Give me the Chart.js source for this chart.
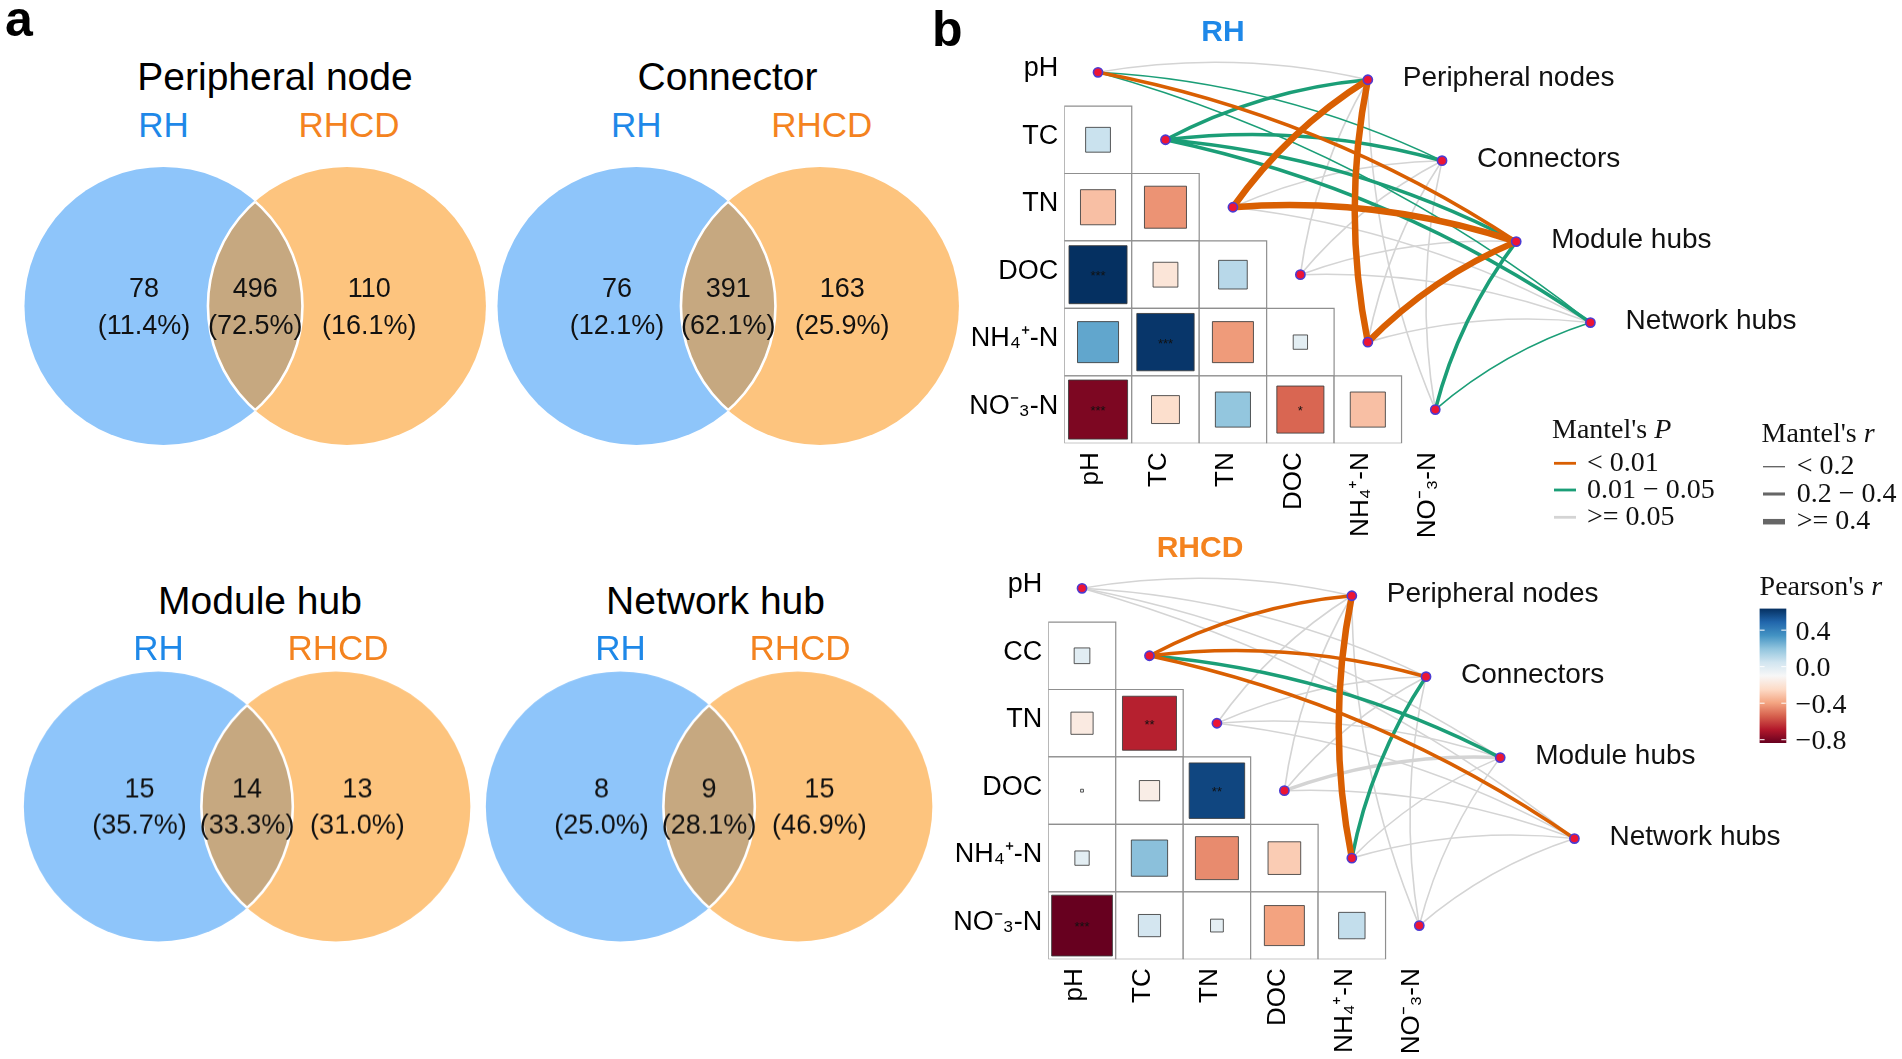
<!DOCTYPE html>
<html>
<head>
<meta charset="utf-8">
<title>Shared taxa and Mantel tests</title>
<script src="https://cdn.jsdelivr.net/npm/chart.js@4.4.1/dist/chart.umd.min.js"></script>
<style>
  html, body { margin: 0; padding: 0; background: #fff; }
  body { position: relative; width: 1902px; height: 1059px; overflow: hidden;
         font-family: "Liberation Sans", Arial, sans-serif; }
  .box { position: absolute; }
  .txt { position: absolute; white-space: nowrap; line-height: 1; }
</style>
</head>
<body>
<script>
// ---------------- panel a: taxa per network role ----------------
const vennTitles = ['Peripheral node', 'Connector', 'Module hub', 'Network hub'];
const onlyRH = [78, 76, 15, 8];
const shared = [496, 391, 14, 9];
const onlyRHCD = [110, 163, 13, 15];

// ---------------- panel b: soil factors vs network roles ----------------
const envCols = ['pH', 'TC', 'TN', 'DOC', 'NH₄⁺-N', 'NO⁻₃-N'];
const rhRows = ['pH', 'TC', 'TN', 'DOC', 'NH₄⁺-N', 'NO⁻₃-N'];
const rhcdRows = ['pH', 'CC', 'TN', 'DOC', 'NH₄⁺-N', 'NO⁻₃-N'];
const roles = ['Peripheral nodes', 'Connectors', 'Module hubs', 'Network hubs'];

// Pearson's r, lower triangle (row i against columns 0..i-1)
const rhPearson = [
  [],
  [0.15],
  [-0.30, -0.43],
  [0.82, -0.15, 0.20],
  [0.41, 0.80, -0.41, 0.05],
  [-0.85, -0.19, 0.30, -0.54, -0.30],
];
const rhStars = [[], [''], ['', ''], ['***', '', ''], ['', '***', '', ''], ['***', '', '', '*', '']];

const rhcdPearson = [
  [],
  [0.06],
  [-0.12, -0.71],
  [0.002, -0.10, 0.75],
  [0.05, 0.32, -0.45, -0.26],
  [-0.90, 0.12, 0.04, -0.39, 0.17],
];
const rhcdStars = [[], [''], ['', '**'], ['', '', '**'], ['', '', '', ''], ['***', '', '', '', '']];

// Mantel tests: rows = soil factor, cols = role
const rhMantelP = [
  [0.30, 0.03, 0.005, 0.03],
  [0.03, 0.03, 0.03, 0.03],
  [0.005, 0.30, 0.005, 0.30],
  [0.30, 0.30, 0.30, 0.30],
  [0.005, 0.30, 0.005, 0.30],
  [0.30, 0.30, 0.03, 0.03],
];
const rhMantelR = [
  [0.10, 0.15, 0.30, 0.15],
  [0.30, 0.30, 0.30, 0.30],
  [0.45, 0.10, 0.50, 0.10],
  [0.10, 0.10, 0.10, 0.10],
  [0.45, 0.10, 0.45, 0.10],
  [0.10, 0.10, 0.30, 0.15],
];
const rhcdMantelP = [
  [0.30, 0.30, 0.30, 0.30],
  [0.005, 0.005, 0.03, 0.005],
  [0.30, 0.30, 0.30, 0.30],
  [0.30, 0.30, 0.30, 0.30],
  [0.005, 0.03, 0.30, 0.30],
  [0.30, 0.30, 0.30, 0.30],
];
const rhcdMantelR = [
  [0.10, 0.10, 0.10, 0.10],
  [0.30, 0.30, 0.30, 0.30],
  [0.10, 0.10, 0.10, 0.10],
  [0.10, 0.10, 0.30, 0.10],
  [0.45, 0.30, 0.10, 0.10],
  [0.10, 0.10, 0.10, 0.10],
];

const pClassLabels = ['< 0.01', '0.01 − 0.05', '>= 0.05'];
const rClassLabels = ['< 0.2', '0.2 − 0.4', '>= 0.4'];
const pearsonTicks = [0.4, 0.0, -0.4, -0.8];

// ---------------- styles ----------------
const FONT_SANS = '"Liberation Sans", Arial, sans-serif';
const FONT_SERIF = '"Liberation Serif", "Times New Roman", serif';
const BLUE = '#8EC5FA', ORANGE = '#FDC47E', LENS = '#C6A880';
const RH_TXT = '#1E88E8', RHCD_TXT = '#F4831F';
const P_COLORS = ['#D95F02', '#1B9E77', '#D4D4D4'];
const R_WIDTHS = [1.6, 3.6, 6.5];
const NODE_FILL = '#EC1535', NODE_LINE = '#4C3BD2';
const rdbu = ['#67001F', '#B2182B', '#D6604D', '#F4A582', '#FDDBC7', '#F7F7F7',
              '#D1E5F0', '#92C5DE', '#4393C3', '#2166AC', '#053061'];
const CORR_MIN = -0.9, CORR_MAX = 0.82;     // colour mapping of cells
const LEG_MIN = -0.836, LEG_MAX = 0.636;    // range shown on colour bar

const pClass = p => (p < 0.01 ? 0 : p < 0.05 ? 1 : 2);
const rClass = r => (r < 0.2 ? 0 : r < 0.4 ? 1 : 2);

function hexRgb(h) {
  return [1, 3, 5].map(i => parseInt(h.slice(i, i + 2), 16));
}
function ramp(t) {
  t = Math.min(1, Math.max(0, t));
  const p = t * (rdbu.length - 1);
  const i = Math.min(rdbu.length - 2, Math.floor(p));
  const f = p - i;
  const a = hexRgb(rdbu[i]), b = hexRgb(rdbu[i + 1]);
  return 'rgb(' + a.map((v, k) => Math.round(v + (b[k] - v) * f)).join(',') + ')';
}
const corrColor = v => ramp((v - CORR_MIN) / (CORR_MAX - CORR_MIN));

function addText(str, x, baseline, size, color, opts = {}) {
  const d = document.createElement('div');
  d.className = 'txt';
  d.textContent = str;
  d.style.left = x + 'px';
  d.style.top = (baseline - 0.8465 * size) + 'px';
  d.style.fontSize = size + 'px';
  d.style.color = color;
  if (opts.bold) d.style.fontWeight = 'bold';
  if (opts.center) d.style.transform = 'translateX(-50%)';
  document.body.appendChild(d);
}

function addBox(left, top, w, h) {
  const d = document.createElement('div');
  d.className = 'box';
  Object.assign(d.style, { left: left + 'px', top: top + 'px', width: w + 'px', height: h + 'px' });
  const c = document.createElement('canvas');
  d.appendChild(c);
  document.body.appendChild(d);
  return c;
}

// ---------------- panel a: Venn diagrams ----------------
const VENN_HALF = 0.66;   // centre offset of each circle, in radii
const vennLayout = [
  { cx: 255.3, cy: 305.5, r: 139, tx: 275, tBase: 90, sBase: 136.7 },
  { cx: 728.0, cy: 305.5, r: 139, tx: 727.5, tBase: 90, sBase: 136.7 },
  { cx: 247.3, cy: 806.0, r: 134.5, tx: 260, tBase: 614.3, sBase: 660 },
  { cx: 709.3, cy: 806.0, r: 134.5, tx: 715.5, tBase: 614.3, sBase: 660 },
];

const vennOverlay = {
  id: 'vennOverlay',
  afterDatasetsDraw(chart, args, opts) {
    const { ctx, scales: { x, y } } = chart;
    const k = opts.k;
    const rPx = x.getPixelForValue(1) - x.getPixelForValue(0);
    const ax = x.getPixelForValue(-VENN_HALF), bx = x.getPixelForValue(VENN_HALF);
    const cy = y.getPixelForValue(0);
    const circle = cx => { ctx.beginPath(); ctx.arc(cx, cy, rPx, 0, Math.PI * 2); };

    ctx.save();
    circle(ax); ctx.clip();
    circle(bx); ctx.fillStyle = LENS; ctx.fill();
    ctx.lineWidth = 2.6; ctx.strokeStyle = '#fff'; ctx.stroke();
    ctx.restore();
    ctx.save();
    circle(bx); ctx.clip();
    circle(ax); ctx.lineWidth = 2.6; ctx.strokeStyle = '#fff'; ctx.stroke();
    ctx.restore();

    const total = onlyRH[k] + shared[k] + onlyRHCD[k];
    const items = [[onlyRH[k], -0.80], [shared[k], 0], [onlyRHCD[k], 0.82]];
    ctx.save();
    ctx.fillStyle = '#111';
    ctx.font = '27px ' + FONT_SANS;
    ctx.textAlign = 'center';
    ctx.textBaseline = 'alphabetic';
    items.forEach(([n, pos]) => {
      const tx = x.getPixelForValue(pos);
      ctx.fillText(String(n), tx, y.getPixelForValue(-0.065));
      ctx.fillText('(' + (100 * n / total).toFixed(1) + '%)', tx, y.getPixelForValue(0.203));
    });
    ctx.restore();
  }
};

vennLayout.forEach((L, k) => {
  const cv = addBox(L.cx - 1.8 * L.r, L.cy - 1.1 * L.r, 3.6 * L.r, 2.2 * L.r);
  new Chart(cv, {
    type: 'scatter',
    data: {
      datasets: [{
        data: [{ x: -VENN_HALF, y: 0 }, { x: VENN_HALF, y: 0 }],
        pointStyle: 'circle',
        pointBackgroundColor: [BLUE, ORANGE],
        pointBorderWidth: 0,
        pointRadius: c => c.chart.scales.x.getPixelForValue(1) - c.chart.scales.x.getPixelForValue(0),
        clip: false,
      }]
    },
    options: {
      responsive: true, maintainAspectRatio: false, animation: false, events: [],
      layout: { padding: 0, autoPadding: false },
      scales: {
        x: { type: 'linear', display: false, min: -1.8, max: 1.8 },
        y: { type: 'linear', display: false, min: -1.1, max: 1.1, reverse: true },
      },
      plugins: { legend: { display: false }, tooltip: { enabled: false }, vennOverlay: { k } },
    },
    plugins: [vennOverlay],
  });
  addText(vennTitles[k], L.tx, L.tBase, 39, '#000', { center: true });
  addText('RH', L.cx - VENN_HALF * L.r, L.sBase, 35, RH_TXT, { center: true });
  addText('RHCD', L.cx + VENN_HALF * L.r + 2, L.sBase, 35, RHCD_TXT, { center: true });
});

// ---------------- panel b: correlation + Mantel panels ----------------
// role nodes laid out on a diagonal to the right of the matrix (axis units)
const ROLE_X0 = 4.0, ROLE_DX = 1.1, ROLE_Y0 = 0.11, ROLE_DY = 1.2;

function italicTitle(ctx, plain, ital, x, y) {
  ctx.font = '28px ' + FONT_SERIF;
  ctx.fillText(plain, x, y);
  const w = ctx.measureText(plain).width;
  ctx.font = 'italic 28px ' + FONT_SERIF;
  ctx.fillText(ital, x + w, y);
}

function mantelLegend(ctx, off) {
  const X = v => v - off.left, Y = v => v - off.top;
  ctx.save();
  ctx.fillStyle = '#111';
  ctx.textAlign = 'left';
  ctx.textBaseline = 'alphabetic';
  italicTitle(ctx, "Mantel's ", 'P', X(1552), Y(438));
  italicTitle(ctx, "Mantel's ", 'r', X(1761.5), Y(441.7));
  ctx.font = '28px ' + FONT_SERIF;
  const pY = [463.3, 490, 517.3], rY = [466.7, 494, 521.7];
  pClassLabels.forEach((lab, i) => {
    ctx.strokeStyle = P_COLORS[i]; ctx.lineWidth = 2.8;
    ctx.beginPath(); ctx.moveTo(X(1554), Y(pY[i])); ctx.lineTo(X(1576), Y(pY[i])); ctx.stroke();
    ctx.fillText(lab, X(1587), Y(pY[i] + 7.5));
  });
  rClassLabels.forEach((lab, i) => {
    ctx.strokeStyle = '#666'; ctx.lineWidth = R_WIDTHS[i] * 0.85;
    ctx.beginPath(); ctx.moveTo(X(1763), Y(rY[i])); ctx.lineTo(X(1785), Y(rY[i])); ctx.stroke();
    ctx.fillText(lab, X(1796.7), Y(rY[i] + 7.5));
  });
  ctx.restore();
}

function pearsonLegend(ctx, off) {
  const X = v => v - off.left, Y = v => v - off.top;
  const top = 608.3, bottom = 742.7, left = 1760, right = 1786.7;
  const legY = v => top + (LEG_MAX - v) / (LEG_MAX - LEG_MIN) * (bottom - top);
  ctx.save();
  ctx.fillStyle = '#111';
  ctx.textAlign = 'left';
  ctx.textBaseline = 'alphabetic';
  italicTitle(ctx, "Pearson's ", 'r', X(1760), Y(595));
  const g = ctx.createLinearGradient(0, Y(top), 0, Y(bottom));
  rdbu.slice().reverse().forEach((c, i) => g.addColorStop(i / (rdbu.length - 1), c));
  ctx.fillStyle = g;
  ctx.fillRect(X(left), Y(top), right - left, bottom - top);
  ctx.strokeStyle = '#fff'; ctx.lineWidth = 1;
  ctx.fillStyle = '#111';
  ctx.font = '28px ' + FONT_SERIF;
  pearsonTicks.forEach(v => {
    const ty = legY(v);
    ctx.beginPath();
    ctx.moveTo(X(left), Y(ty)); ctx.lineTo(X(left + 5), Y(ty));
    ctx.moveTo(X(right - 5), Y(ty)); ctx.lineTo(X(right), Y(ty));
    ctx.stroke();
    ctx.fillText(v.toFixed(1).replace('-', '−'), X(1796), Y(ty + 9.5));
  });
  ctx.restore();
}

function corrPanel(box, rowLabels, pearson, stars, mP, mR, legendFn) {
  const cv = addBox(box.left, box.top, box.w, box.h);
  const cells = [];
  pearson.forEach((row, i) => row.forEach((v, j) => cells.push({ x: j, y: i, v: v, star: stars[i][j] })));
  const envNodes = envCols.map((_, i) => ({ x: i, y: i }));
  const roleNodes = roles.map((_, k) => ({ x: ROLE_X0 + ROLE_DX * k, y: ROLE_Y0 + ROLE_DY * k }));
  const cellPx = ch => Math.abs(ch.scales.x.getPixelForValue(1) - ch.scales.x.getPixelForValue(0));

  const panelPlugin = {
    id: 'panelDraw',
    beforeDatasetsDraw(chart) {
      const { ctx, scales: { x, y } } = chart;
      const links = [];
      mP.forEach((row, i) => row.forEach((p, k) => links.push({ i, k, pc: pClass(p), rc: rClass(mR[i][k]) })));
      links.sort((a, b) => b.pc - a.pc);   // grey links underneath
      ctx.save();
      ctx.lineCap = 'butt';
      links.forEach(l => {
        const x1 = x.getPixelForValue(envNodes[l.i].x), y1 = y.getPixelForValue(envNodes[l.i].y);
        const x2 = x.getPixelForValue(roleNodes[l.k].x), y2 = y.getPixelForValue(roleNodes[l.k].y);
        const dx = x2 - x1, dy = y2 - y1;
        const cx = (x1 + x2) / 2 + dy * 0.1, cy = (y1 + y2) / 2 - dx * 0.1;
        ctx.strokeStyle = P_COLORS[l.pc];
        ctx.lineWidth = R_WIDTHS[l.rc];
        ctx.beginPath();
        ctx.moveTo(x1, y1);
        ctx.quadraticCurveTo(cx, cy, x2, y2);
        ctx.stroke();
      });
      ctx.restore();
    },
    afterDatasetsDraw(chart) {
      const { ctx, scales: { x, y } } = chart;
      ctx.save();
      ctx.fillStyle = '#111';
      ctx.textAlign = 'center';
      ctx.textBaseline = 'middle';
      ctx.font = '13px ' + FONT_SANS;
      cells.forEach(c => {
        if (c.star) ctx.fillText(c.star, x.getPixelForValue(c.x), y.getPixelForValue(c.y) + 2);
      });
      ctx.textAlign = 'left';
      ctx.textBaseline = 'alphabetic';
      ctx.font = '28px ' + FONT_SANS;
      roleNodes.forEach((n, k) => {
        ctx.fillText(roles[k], x.getPixelForValue(n.x) + 35, y.getPixelForValue(n.y) + 6.5);
      });
      ctx.restore();
      legendFn(ctx, box);
    }
  };

  new Chart(cv, {
    type: 'scatter',
    data: {
      datasets: [
        { data: envNodes.concat(roleNodes), order: 0, pointStyle: 'circle', pointRadius: 4.6,
          pointBackgroundColor: NODE_FILL, pointBorderColor: NODE_LINE, pointBorderWidth: 1.6 },
        { data: cells, order: 1, pointStyle: 'rect',
          pointRadius: c => (c.raw ? cellPx(c.chart) * 0.95 * Math.sqrt(Math.abs(c.raw.v)) / Math.SQRT2 : 0),
          pointBackgroundColor: c => (c.raw ? corrColor(c.raw.v) : '#fff'),
          pointBorderColor: 'rgba(60,60,60,0.85)', pointBorderWidth: 1 },
        { data: cells, order: 2, pointStyle: 'rect',
          pointRadius: c => cellPx(c.chart) / Math.SQRT2,
          pointBackgroundColor: '#fff', pointBorderColor: '#8f8f8f', pointBorderWidth: 1.2 },
      ]
    },
    options: {
      responsive: true, maintainAspectRatio: false, animation: false, events: [],
      layout: { padding: { left: 0, top: 38.6, right: 28.3, bottom: 0 }, autoPadding: false },
      scales: {
        x: {
          type: 'linear', position: 'bottom', min: -0.5, max: 11.5,
          afterBuildTicks: s => { s.ticks = envCols.map((_, i) => ({ value: i })); },
          afterFit: s => { s.height = 96.7; },
          grid: { display: false, drawTicks: false }, border: { display: false },
          ticks: { autoSkip: false, minRotation: 90, maxRotation: 90, padding: 9, labelOffset: -7,
                   color: '#000', font: { family: FONT_SANS, size: 26 }, callback: v => envCols[v] },
        },
        y: {
          type: 'linear', position: 'left', min: -0.5, max: 5.5, reverse: true,
          afterBuildTicks: s => { s.ticks = rowLabels.map((_, i) => ({ value: i })); },
          afterFit: s => { s.width = 114.3; },
          grid: { display: false, drawTicks: false }, border: { display: false },
          ticks: { autoSkip: false, padding: 6, labelOffset: -3.5,
                   color: '#000', font: { family: FONT_SANS, size: 27 }, callback: v => rowLabels[v] },
        },
      },
      plugins: { legend: { display: false }, tooltip: { enabled: false } },
    },
    plugins: [panelPlugin],
  });
}

corrPanel({ left: 950, top: 0, w: 952, h: 540 }, rhRows, rhPearson, rhStars, rhMantelP, rhMantelR, mantelLegend);
corrPanel({ left: 934.4, top: 515.7, w: 952, h: 540 }, rhcdRows, rhcdPearson, rhcdStars, rhcdMantelP, rhcdMantelR, pearsonLegend);

// panel letters and panel b headings
addText('a', 5, 36, 50, '#000', { bold: true });
addText('b', 932, 46, 50, '#000', { bold: true });
addText('RH', 1223, 41, 30, RH_TXT, { bold: true, center: true });
addText('RHCD', 1200, 557, 30, RHCD_TXT, { bold: true, center: true });
</script>
</body>
</html>
